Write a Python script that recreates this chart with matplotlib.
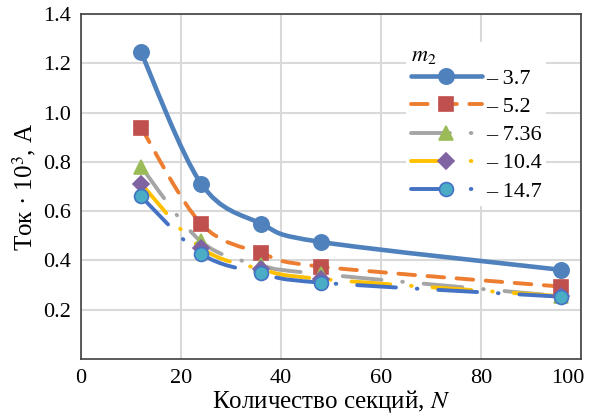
import matplotlib
matplotlib.use('Agg')
import matplotlib.pyplot as plt
import matplotlib.transforms as mtransforms
import numpy as np
from matplotlib.path import Path
from matplotlib.patches import PathPatch
from matplotlib.lines import Line2D

# data
N = [12, 24, 36, 48, 96]
m2_labels = ['3.7', '5.2', '7.36', '10.4', '14.7']
i_37 = [1.244, 0.712, 0.549, 0.475, 0.362]
i_52 = [0.939, 0.549, 0.430, 0.375, 0.294]
i_736 = [0.780, 0.477, 0.380, 0.345, 0.255]
i_104 = [0.712, 0.451, 0.365, 0.325, 0.255]
i_147 = [0.660, 0.427, 0.348, 0.310, 0.253]

plt.rcParams['font.family'] = 'Liberation Serif'
plt.rcParams['mathtext.fontset'] = 'stix'
plt.rcParams['lines.scale_dashes'] = False


def smooth_path(x, y):
    # bezier through the points, like Excel's "smoothed line"
    p = np.column_stack([x, y]).astype(float)
    ext = np.vstack([p[0], p, p[-1]])
    verts = [p[0]]
    codes = [Path.MOVETO]
    for i in range(len(p) - 1):
        p0, p1, p2, p3 = ext[i], ext[i + 1], ext[i + 2], ext[i + 3]
        c1 = p1 + (p2 - p0) / 6.0
        c2 = p2 - (p3 - p1) / 6.0
        verts += [c1, c2, p2]
        codes += [Path.CURVE4] * 3
    return Path(verts, codes)


series = [
    (i_37, '#4F81BD', '-', 'o', '#4F81BD', '#4F81BD', 11, 3.3),
    (i_52, '#ED7D31', (0, (12, 9)), 's', '#C0504D', '#C0504D', 10, 2.8),
    (i_736, '#A5A5A5', (0, (28, 15, 0.5, 15)), '^', '#9BBB59', '#9BBB59', 10.5, 2.8),
    (i_104, '#FFC000', (0, (28, 15, 0.5, 15)), 'D', '#8064A2', '#8064A2', 8, 2.8),
    (i_147, '#4472C4', (0, (28, 15, 0.5, 15)), 'o', '#4BACC6', '#4472C4', 10, 2.8),
]

fig = plt.figure(figsize=(5.96, 4.18), dpi=100)
ax = fig.add_axes([0.136, 0.141, 0.839, 0.8255])

handles = []
for k, (vals, col, ls, mk, mfc, mec, ms, lw) in enumerate(series):
    patch = PathPatch(smooth_path(N, vals), fill=False, edgecolor=col,
                      linestyle=ls, linewidth=lw, capstyle='round',
                      zorder=3 + k)
    ax.add_patch(patch)
    ax.plot(N, vals, linestyle='none', marker=mk, markersize=ms,
            markerfacecolor=mfc, markeredgecolor=mec, markeredgewidth=1.2,
            zorder=10 + k)
    handles.append(Line2D([], [], color=col, linestyle=ls, linewidth=lw,
                          dash_capstyle='round', solid_capstyle='round',
                          marker=mk, markersize=ms, markerfacecolor=mfc,
                          markeredgecolor=mec, markeredgewidth=1.2))

ax.set_xlim(0, 100)
ax.set_ylim(0, 1.4)
ax.set_xticks([0, 20, 40, 60, 80, 100])
ax.set_yticks([0.2, 0.4, 0.6, 0.8, 1.0, 1.2, 1.4])
ax.set_yticklabels(['0.2', '0.4', '0.6', '0.8', '1.0', '1.2', '1.4'])
ax.tick_params(length=0, labelsize=16, pad=7)
ax.grid(True, color='#D9D9D9', linewidth=1.5)
ax.set_axisbelow(True)
for s in ax.spines.values():
    s.set_color('#404040')
    s.set_linewidth(1.2)

# last x label is pulled inside a bit, as in the original
lab100 = ax.get_xticklabels()[-1]
lab100.set_transform(lab100.get_transform() +
                     mtransforms.ScaledTranslation(-13 / 100, 0, fig.dpi_scale_trans))

ax.set_xlabel('Количество секций, $N$', fontsize=18, labelpad=0)
ax.set_ylabel('Ток · 10$^3$, А', fontsize=18, labelpad=4)

leg = ax.legend(handles, ['– ' + s for s in m2_labels], title='$m_2$',
                loc='upper left', bbox_to_anchor=(0.628, 0.95),
                fontsize=16, title_fontsize=16, frameon=True,
                facecolor='white', edgecolor='none', framealpha=1,
                handlelength=3.2, handletextpad=0.2, labelspacing=0.34,
                borderpad=0.2, numpoints=1, alignment='left')
leg._legend_box.sep = 2

fig.savefig('out.png', dpi=100)
